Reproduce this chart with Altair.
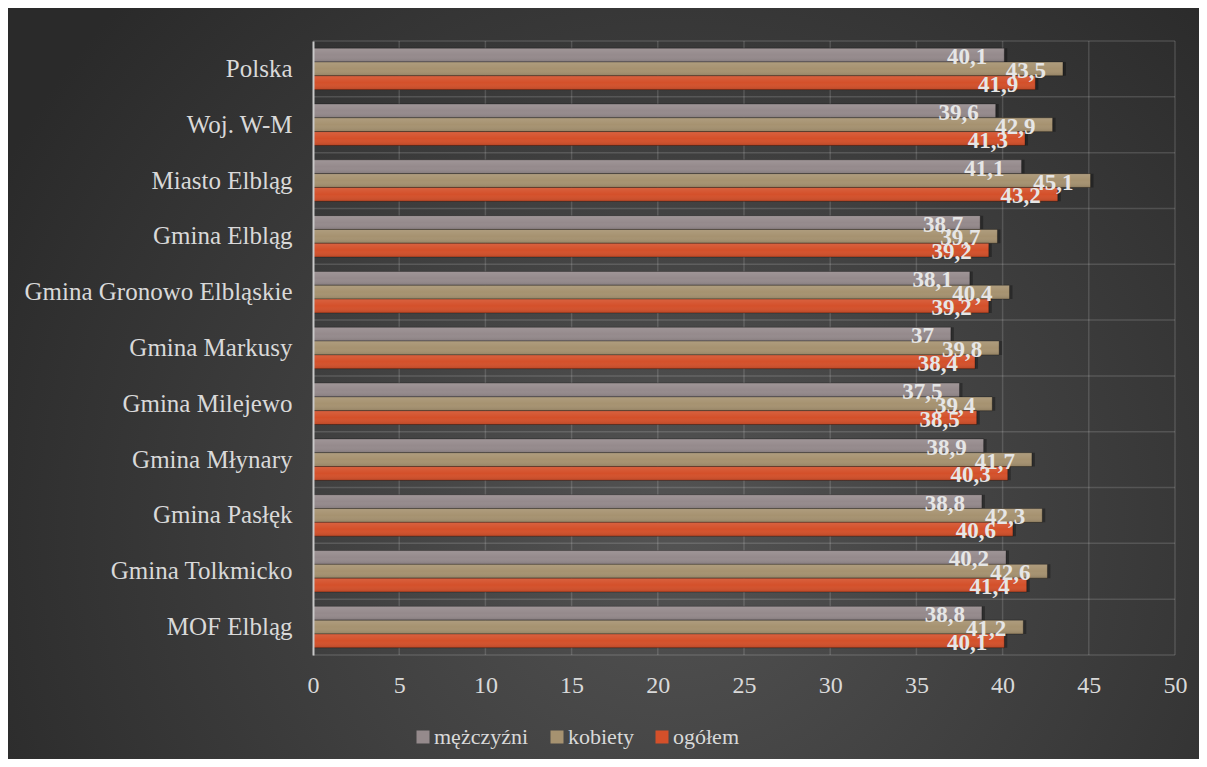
import altair as alt
import pandas as pd

categories = ["Polska", "Woj. W-M", "Miasto Elbląg", "Gmina Elbląg",
              "Gmina Gronowo Elbląskie", "Gmina Markusy", "Gmina Milejewo",
              "Gmina Młynary", "Gmina Pasłęk", "Gmina Tolkmicko", "MOF Elbląg"]
series = ["mężczyźni", "kobiety", "ogółem"]
men = [40.1, 39.6, 41.1, 38.7, 38.1, 37.0, 37.5, 38.9, 38.8, 40.2, 38.8]
women = [43.5, 42.9, 45.1, 39.7, 40.4, 39.8, 39.4, 41.7, 42.3, 42.6, 41.2]
total = [41.9, 41.3, 43.2, 39.2, 39.2, 38.4, 38.5, 40.3, 40.6, 41.4, 40.1]
x_ticks = [0, 5, 10, 15, 20, 25, 30, 35, 40, 45, 50]
colors = ["#958a8c", "#a69270", "#d4502a"]

rows = []
for s, vals in zip(series, [men, women, total]):
    for c, v in zip(categories, vals):
        rows.append({"cat": c, "series": s, "value": v,
                     "label": f"{v:g}".replace(".", ",")})
df = pd.DataFrame(rows)

W, H = 862, 614
PAD = {"left": 305, "top": 33, "right": 24, "bottom": 104}
FONT = "Liberation Serif"
GRID = "rgba(255,255,255,0.14)"

xscale = alt.Scale(domain=[0, 50], nice=False, zero=True)
yscale = alt.Scale(domain=categories, paddingInner=0, paddingOuter=0)
oscale = alt.Scale(domain=series, paddingInner=0, paddingOuter=0.52)

xaxis = alt.Axis(values=x_ticks, title=None, grid=False, domain=False,
                 ticks=False, labelFont=FONT, labelFontSize=24, labelFlush=False,
                 labelColor="#d9d9d9", labelPadding=18, zindex=1)
yaxis = alt.Axis(title=None, grid=False, ticks=False, domain=True,
                 domainColor="#c8c8c8", domainWidth=2, labelLimit=0,
                 labelFont=FONT, labelFontSize=25, labelColor="#d9d9d9",
                 labelPadding=21, zindex=1)


def X(field="value"):
    return alt.X(f"{field}:Q", scale=xscale, axis=xaxis)


def Y(bp=None):
    if bp is None:
        return alt.Y("cat:N", scale=yscale, sort=categories, axis=yaxis)
    return alt.Y("cat:N", scale=yscale, sort=categories, axis=yaxis, bandPosition=bp)


YO = alt.YOffset("series:N", scale=oscale, sort=series)

bg = alt.Chart(pd.DataFrame({"k": [0]})).mark_rect(
    fill=alt.RadialGradient(
        gradient="radial",
        stops=[alt.GradientStop(offset=0, color="#535353"),
               alt.GradientStop(offset=1, color="#2a2a2a")],
        x1=0.56, y1=0.62, r1=0, x2=0.56, y2=0.62, r2=0.64),
).encode(
    x=alt.value(-PAD["left"]), x2=alt.value(W + PAD["right"]),
    y=alt.value(-PAD["top"]), y2=alt.value(H + PAD["bottom"]))

vgrid = alt.Chart(pd.DataFrame({"value": x_ticks[1:]})).mark_rule(
    color=GRID, strokeWidth=1.5).encode(x=X())

hgrid = alt.Chart(pd.DataFrame({"cat": categories})).mark_rule(
    color=GRID, strokeWidth=1.5).encode(y=Y(0))

hgrid_end = alt.Chart(pd.DataFrame({"cat": categories[-1:]})).mark_rule(
    color=GRID, strokeWidth=1.5).encode(y=Y(1))

shadow = alt.Chart(df).mark_bar(
    color="black", opacity=0.3, yOffset=4, xOffset=3).encode(
    x=X(), y=Y(), yOffset=YO)

bars = alt.Chart(df).mark_bar(stroke="rgba(0,0,0,0.3)", strokeWidth=1).encode(
    x=X(), y=Y(), yOffset=YO,
    color=alt.Color("series:N", sort=series,
                    scale=alt.Scale(domain=series, range=colors),
                    legend=alt.Legend(title=None, orient="none", direction="horizontal",
                                      legendX=99, legendY=685,
                                      symbolType="square", symbolSize=169,
                                      symbolStrokeWidth=0, symbolOpacity=1,
                                      labelFont=FONT, labelFontSize=22,
                                      labelColor="#d9d9d9", labelOffset=0,
                                      columnPadding=17)))

sheen = alt.Chart(df).mark_bar(
    fill=alt.LinearGradient(
        gradient="linear",
        stops=[alt.GradientStop(offset=0, color="rgba(255,255,255,0.10)"),
               alt.GradientStop(offset=0.5, color="rgba(255,255,255,0)"),
               alt.GradientStop(offset=1, color="rgba(0,0,0,0.12)")],
        x1=0, y1=0, x2=0, y2=1)).encode(
    x=X(), y=Y(), yOffset=YO)

labels = alt.Chart(df).mark_text(
    align="right", baseline="middle", dx=-17, dy=2, font=FONT,
    fontWeight="bold", fontSize=23, color="#e6e6e6").encode(
    x=X(), y=Y(), yOffset=YO, text="label:N")

chart = alt.layer(bg, vgrid, hgrid, hgrid_end, shadow, bars, sheen, labels).properties(
    width=W, height=H, padding=PAD,
    autosize=alt.AutoSizeParams(type="none"),
    background="#2c2c2c",
).configure_view(stroke=None)

chart.save("out.html", embed_options={"renderer": "svg", "actions": False})
